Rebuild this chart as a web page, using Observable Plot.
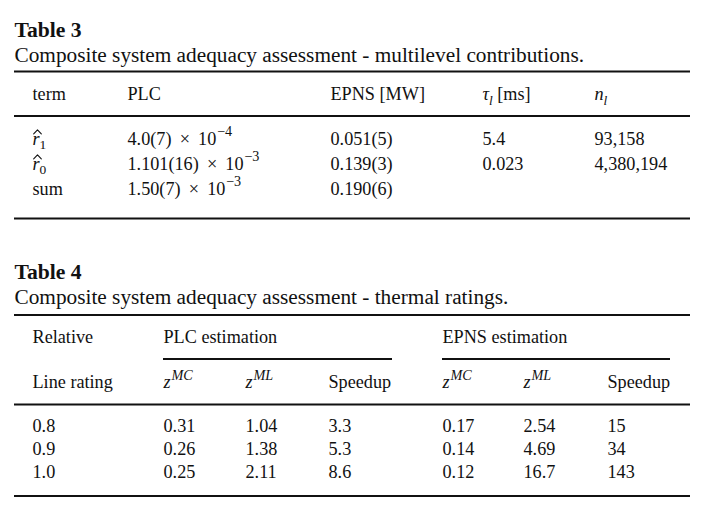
<!DOCTYPE html>
<html>
<head>
<meta charset="utf-8">
<script src="https://cdn.jsdelivr.net/npm/d3@7"></script>
<script src="https://cdn.jsdelivr.net/npm/@observablehq/plot@0.6"></script>
<style>html,body{margin:0;padding:0;background:#fff}</style>
</head>
<body>
<div id="chart"></div>
<script>
// ---------------- DATA (text content only; $...$ marks math notation) ----------------
const table3Title = "Table 3";
const table3Caption = "Composite system adequacy assessment - multilevel contributions.";
const table3Header = ["term", "PLC", "EPNS [MW]", "$τ_l$ [ms]", "$n_l$"];
const table3Terms = ["$\\hat{r}_1$", "$\\hat{r}_0$", "sum"];
const table3PLC = ["4.0(7) × 10$^{−4}$", "1.101(16) × 10$^{−3}$", "1.50(7) × 10$^{−3}$"];
const table3EPNS = ["0.051(5)", "0.139(3)", "0.190(6)"];
const table3Tau = ["5.4", "0.023", ""];
const table3N = ["93,158", "4,380,194", ""];

const table4Title = "Table 4";
const table4Caption = "Composite system adequacy assessment - thermal ratings.";
const table4TopHeader = ["Relative", "PLC estimation", "EPNS estimation"];
const table4Header = ["Line rating", "$z^{MC}$", "$z^{ML}$", "Speedup", "$z^{MC}$", "$z^{ML}$", "Speedup"];
const lineRatings = ["0.8", "0.9", "1.0"];
const plcZMC = ["0.31", "0.26", "0.25"];
const plcZML = ["1.04", "1.38", "2.11"];
const plcSpeedup = ["3.3", "5.3", "8.6"];
const epnsZMC = ["0.17", "0.14", "0.12"];
const epnsZML = ["2.54", "4.69", "16.7"];
const epnsSpeedup = ["15", "34", "143"];

// ---------------- LAYOUT ----------------
const L = {
  left: 14, right: 690,
  titleSize: 21.6, captionSize: 21.3, bodySize: 18.2,
  t3: {title: 36, caption: 61.5, rules: [71, 115.5, 218], header: 99.5,
       rows: [144, 169, 194], cols: [32, 127, 330, 482, 594]},
  t4: {title: 278.5, caption: 303.5, rules: [314.5, 404, 495.5], header1: 342.5,
       groupRule: 358.5, header2: 387.5, rows: [431, 454, 477],
       cols: [32, 163, 245, 328, 442, 523, 607], groupSpans: [[163, 392], [442, 670]]}
};
const FONT = '"Liberation Serif"';
const ctx = document.createElement("canvas").getContext("2d");
function measure(t, size, italic, bold) {
  ctx.font = `${italic ? "italic " : ""}${bold ? "bold " : ""}${size}px ${FONT}`;
  return ctx.measureText(t).width;
}

// ---------------- mini math parser ----------------
function pushMath(g, level, runs, hat) {
  for (const m of g.matchAll(/\p{L}+|[^\p{L}]+/gu))
    runs.push({t: m[0], italic: /\p{L}/u.test(m[0]), level, hat});
}
function parseMath(s, runs) {
  let i = 0;
  const readGroup = () => {
    if (s[i] === "{") { const j = s.indexOf("}", i); const g = s.slice(i + 1, j); i = j + 1; return g; }
    return s[i++];
  };
  while (i < s.length) {
    if (s.startsWith("\\hat", i)) { i += 4; pushMath(readGroup(), 0, runs, true); }
    else if (s[i] === "_" || s[i] === "^") { const lvl = s[i] === "_" ? -1 : 1; i++; pushMath(readGroup(), lvl, runs, false); }
    else { pushMath(s[i], 0, runs, false); i++; }
  }
}
function parseRich(str) {
  const runs = [];
  str.split("$").forEach((p, i) => {
    if (i % 2 === 0) {
      // binary operator × gets math spacing
      p.split(/\s*(×)\s*/).forEach(q => { if (q) runs.push({t: q, italic: false, level: 0, hat: false, op: q === "×"}); });
    } else parseMath(p, runs);
  });
  return runs;
}
const hats = [];
function layoutCell(cell) {
  const out = [];
  let x = cell.x;
  let prevItalic = false;
  for (const r of parseRich(cell.s)) {
    const size = r.level === 0 ? cell.size : cell.size * (r.level === 1 ? 0.78 : 0.74);
    const dy = r.level === -1 ? cell.size * 0.27 : r.level === 1 ? -cell.size * 0.44 : 0;
    if (r.level === 1) x += cell.size * (prevItalic ? 0.05 : 0.04);
    if (r.op) x += cell.size * 0.45;
    const w = measure(r.t, size, r.italic, cell.bold);
    out.push({t: r.t, x, y: cell.y + dy, size, italic: r.italic, bold: cell.bold});
    if (r.hat) {
      const cx = x + w / 2 + size * 0.08, id = hats.length / 3;
      const base = cell.y - size * 0.58, peak = cell.y - size * 0.8, half = size * 0.21;
      hats.push({id, x: cx - half, y: base}, {id, x: cx, y: peak}, {id, x: cx + half, y: base});
    }
    x += w;
    if (r.op) x += cell.size * 0.45;
    if (r.level === 0) prevItalic = r.italic;
  }
  return out;
}

// ---------------- build cells ----------------
const cells = [];
const rules = [];
// Table 3
cells.push({s: table3Title, x: L.left, y: L.t3.title, size: L.titleSize, bold: true});
cells.push({s: table3Caption, x: L.left, y: L.t3.caption, size: L.captionSize});
L.t3.rules.forEach(y => rules.push({y, x1: L.left, x2: L.right}));
table3Header.forEach((s, j) => cells.push({s, x: L.t3.cols[j], y: L.t3.header, size: L.bodySize}));
const t3cols = [table3Terms, table3PLC, table3EPNS, table3Tau, table3N];
t3cols.forEach((col, j) => col.forEach((s, i) => { if (s) cells.push({s, x: L.t3.cols[j], y: L.t3.rows[i], size: L.bodySize}); }));
// Table 4
cells.push({s: table4Title, x: L.left, y: L.t4.title, size: L.titleSize, bold: true});
cells.push({s: table4Caption, x: L.left, y: L.t4.caption, size: L.captionSize});
L.t4.rules.forEach(y => rules.push({y, x1: L.left, x2: L.right}));
L.t4.groupSpans.forEach(([x1, x2]) => rules.push({y: L.t4.groupRule, x1, x2}));
[L.t4.cols[0], L.t4.cols[1], L.t4.cols[4]].forEach((x, j) => cells.push({s: table4TopHeader[j], x, y: L.t4.header1, size: L.bodySize}));
table4Header.forEach((s, j) => cells.push({s, x: L.t4.cols[j], y: L.t4.header2, size: L.bodySize}));
const t4cols = [lineRatings, plcZMC, plcZML, plcSpeedup, epnsZMC, epnsZML, epnsSpeedup];
t4cols.forEach((col, j) => col.forEach((s, i) => cells.push({s, x: L.t4.cols[j], y: L.t4.rows[i], size: L.bodySize})));

const glyphs = cells.flatMap(layoutCell);
const groups = d3.groups(glyphs, g => `${g.italic ? 1 : 0}${g.bold ? 1 : 0}`);

const textMarks = groups.map(([key, data]) => Plot.text(data, {
  x: "x", y: "y", text: "t", fontSize: "size",
  textAnchor: "start",
  lineAnchor: "bottom",
  fontStyle: key[0] === "1" ? "italic" : "normal",
  fontWeight: key[1] === "1" ? "bold" : "normal",
  fill: "#111"
}));

const chart = Plot.plot({
  width: 706, height: 521,
  margin: 0,
  x: {type: "identity", axis: null},
  y: {type: "identity", axis: null},
  style: {fontFamily: FONT + ", serif", background: "#fff", color: "#111"},
  marks: [
    Plot.ruleY(rules, {y: "y", x1: "x1", x2: "x2", stroke: "#111", strokeWidth: 2}),
    Plot.line(hats, {x: "x", y: "y", z: "id", stroke: "#111", strokeWidth: 1.1, curve: "linear"}),
    ...textMarks
  ]
});
document.getElementById("chart").appendChild(chart);
</script>
</body>
</html>
